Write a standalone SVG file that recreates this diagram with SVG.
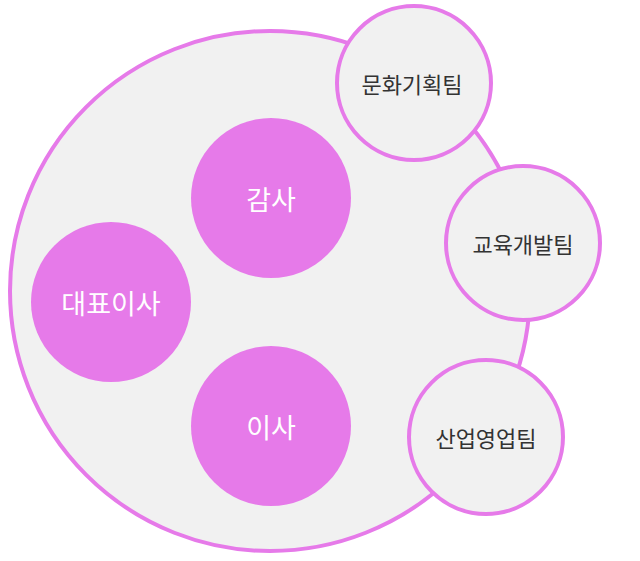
<svg xmlns="http://www.w3.org/2000/svg" width="640" height="561" viewBox="0 0 640 561">
<style>
.big{fill:#f1f1f1;stroke:#e67ae9;stroke-width:4}
.in{fill:#e67ae9}
.sat{fill:#f1f1f1;stroke:#e67ae9;stroke-width:4}
.tw{fill:#fff;font-family:"Noto Sans CJK KR","Noto Sans",sans-serif;font-size:27px;text-anchor:middle;dominant-baseline:central}
.td{fill:#333;font-family:"Noto Sans CJK KR","Noto Sans",sans-serif;font-size:22px;text-anchor:middle;dominant-baseline:central}
</style>
<g id="main"><circle class="big" cx="270" cy="291" r="260"/></g>
<g id="gamsa"><circle class="in" cx="271" cy="198" r="80"/><text class="tw" x="271" y="198">감사</text></g>
<g id="ceo"><circle class="in" cx="111" cy="302" r="80"/><text class="tw" x="111" y="302">대표이사</text></g>
<g id="isa"><circle class="in" cx="271" cy="426" r="80"/><text class="tw" x="271" y="426">이사</text></g>
<g id="culture"><circle class="sat" cx="414" cy="83" r="77"/><text class="td" x="412" y="83">문화기획팀</text></g>
<g id="edu"><circle class="sat" cx="523" cy="243" r="77"/><text class="td" x="523" y="243">교육개발팀</text></g>
<g id="sales"><circle class="sat" cx="486" cy="437" r="77"/><text class="td" x="486" y="437">산업영업팀</text></g>
<g id="connectors"></g>
</svg>
